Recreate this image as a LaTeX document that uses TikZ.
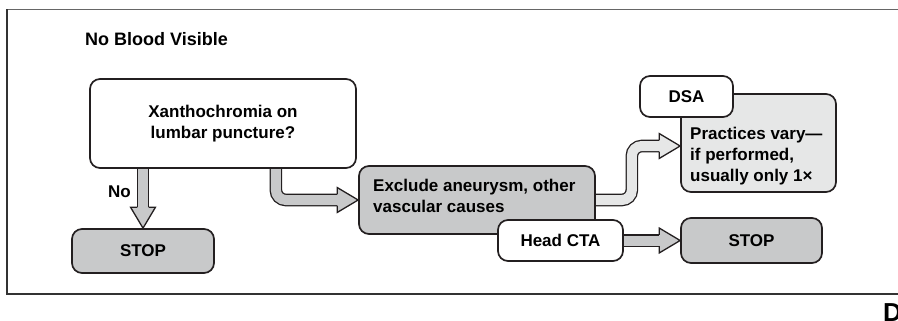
\documentclass[tikz,border=0pt]{standalone}
\usepackage{fontspec}
\setmainfont{Liberation Sans}
\usetikzlibrary{calc}
\pgfdeclarelayer{background}
\pgfsetlayers{background,main}
\definecolor{edgecol}{HTML}{231F20}
\definecolor{framecol}{HTML}{333333}
\definecolor{boxgray}{HTML}{C8C9CA}
\definecolor{boxlight}{HTML}{E6E7E7}
% #1 fill colour, #2 centre-line path (ends just past head base), #3 head base, #4 tip
\newcommand\fatarrow[4]{%
  \draw[edgecol, line width=12.6pt, rounded corners=10pt] #2;
  \draw[#1, line width=10pt, rounded corners=10pt] #2;
  \fill[#1] ($(#3)!12.5pt!90:(#4)$) -- (#4) -- ($(#3)!12.5pt!-90:(#4)$) -- cycle;
  \draw[edgecol, line width=1.3pt, line join=miter]
    ($(#3)!5.65pt!90:(#4)$) -- ($(#3)!12.5pt!90:(#4)$) -- (#4)
    -- ($(#3)!12.5pt!-90:(#4)$) -- ($(#3)!5.65pt!-90:(#4)$);
}
\begin{document}
\begin{tikzpicture}[x=1pt,y=-1pt,
  box/.style={draw=edgecol, line width=1.7pt, rounded corners=10pt, inner sep=0pt,
    align=center, font=\fontsize{17}{21}\selectfont\bfseries},
  whitebox/.style={box, fill=white},
  graybox/.style={box, fill=boxgray},
  lightbox/.style={box, fill=boxlight},
  txt/.style={inner sep=0pt, align=left, font=\fontsize{17}{21}\selectfont\bfseries}]
\useasboundingbox (0,0) rectangle (898,321);

% frame
\draw[framecol!75, line width=1.2pt] (898,9.5) -- (7,9.5);
\draw[framecol, line width=1.2pt] (7,9.5) -- (7,294) -- (898,294);

% title and labels
\node[anchor=base west, inner sep=0pt, font=\fontsize{18}{22}\selectfont\bfseries] (title) at (85,46) {No Blood Visible};
\node[anchor=base west, inner sep=0pt, font=\fontsize{17}{21}\selectfont\bfseries] (nolbl) at (108,197) {No};
\node[anchor=north west, inner sep=0pt, font=\fontsize{26}{26}\selectfont\bfseries] (panel) at (883,303) {D};

% boxes
\node[whitebox, minimum width=266pt, minimum height=89pt] (xan) at (223,123.5) {Xanthochromia on\\lumbar puncture?};
\node[graybox, minimum width=142pt, minimum height=44pt] (stopL) at (143,251) {STOP};
\node[graybox, minimum width=236pt, minimum height=68pt] (exc) at (477,200) {};
\node[txt, anchor=north west] (exct) at (373,179) {Exclude aneurysm, other\\vascular causes};
\node[whitebox, minimum width=125pt, minimum height=41pt] (hcta) at (560.5,240.5) {Head CTA};
\node[graybox, minimum width=141pt, minimum height=45pt] (stopR) at (751.5,240.5) {STOP};
\node[lightbox, minimum width=155pt, minimum height=98pt] (prac) at (758.5,143) {};
\node[txt, anchor=north west] (pract) at (690,127) {Practices vary—\\if performed,\\usually only 1×};
\node[whitebox, minimum width=93pt, minimum height=41pt] (dsa) at (686.5,96.5) {DSA};

% arrows (behind boxes)
\begin{pgfonlayer}{background}
  \coordinate (a1s) at ($(stopL.north |- xan.south)+(0,-6)$);
  \coordinate (a1t) at (stopL.north);
  \coordinate (a1b) at ($(a1t)+(0,-21)$);
  \fatarrow{boxgray}{(a1s) -- ($(a1b)+(0,1)$)}{a1b}{a1t}

  \coordinate (a2s) at ($(xan.south east)+(-81,-6)$);
  \coordinate (a2t) at (exc.west);
  \coordinate (a2b) at ($(a2t)+(-21,0)$);
  \fatarrow{boxgray}{(a2s) -- (a2s |- a2t) -- ($(a2b)+(1,0)$)}{a2b}{a2t}

  \coordinate (a3s) at ($(exc.east)+(-6,0)$);
  \coordinate (a3m) at ($(exc.east)+(36,0)$);
  \coordinate (a3t) at ($(prac.west)+(0,3)$);
  \coordinate (a3b) at ($(a3t)+(-21,0)$);
  \fatarrow{boxlight}{(a3s) -- (a3m) -- (a3m |- a3t) -- ($(a3b)+(1,0)$)}{a3b}{a3t}

  \coordinate (a4s) at ($(hcta.east)+(-6,0)$);
  \coordinate (a4t) at (stopR.west);
  \coordinate (a4b) at ($(a4t)+(-21,0)$);
  \fatarrow{boxgray}{(a4s) -- ($(a4b)+(1,0)$)}{a4b}{a4t}
\end{pgfonlayer}
\end{tikzpicture}
\end{document}
